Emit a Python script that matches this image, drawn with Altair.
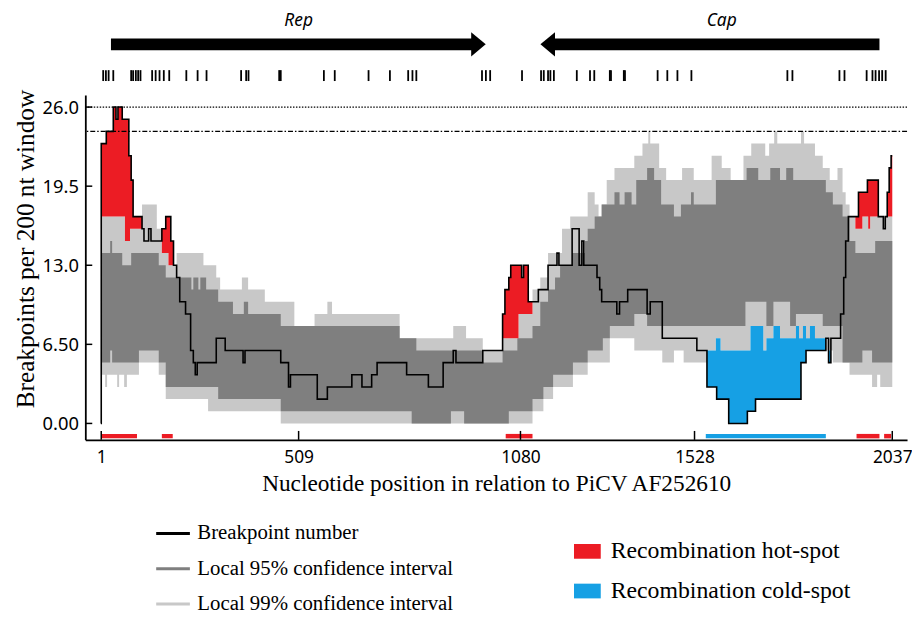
import altair as alt
import numpy as np
import pandas as pd

# ---------------- data ----------------
# breakpoint number (step function: value starts at position)
line_pos = [1, 14, 32, 39, 44, 55, 72, 78, 83, 106, 111, 123, 129, 157, 167, 180, 187, 195, 203, 218,
            231, 238, 243, 248, 297, 320, 366, 371, 463, 483, 488, 557, 583, 646, 672, 697, 711, 787, 843, 881,
            907, 914, 983, 1029, 1034, 1040, 1050, 1055, 1083, 1088, 1100, 1126, 1151, 1174, 1179, 1213, 1231, 1238, 1243, 1277,
            1284, 1289, 1328, 1335, 1356, 1406, 1414, 1445, 1534, 1560, 1585, 1616, 1664, 1685, 1802, 1815, 1866, 1873, 1879, 1904,
            1912, 1917, 1924, 1950, 1973, 2001, 2014, 2019, 2024, 2029, 2034, 2037]
line_val = [23, 24, 26, 25, 26, 25, 22, 20, 17, 16, 15, 16, 15, 16, 17, 15, 13, 12, 10, 9,
            6, 5, 4, 5, 7, 6, 5, 6, 5, 3, 4, 2, 3, 4, 3, 4, 5, 4, 3, 5,
            6, 5, 6, 6, 9, 11, 12, 13, 12, 13, 10, 11, 13, 14, 13, 16, 13, 15, 13, 12,
            11, 10, 9, 10, 11, 9, 10, 7, 6, 3, 2, 0, 1, 2, 5, 6, 7, 5, 7, 9,
            12, 15, 17, 19, 20, 17, 16, 17, 19, 21, 22, 22]

# local 99% CI upper
hi99_pos = [1, 62, 75, 106, 144, 157, 174, 195, 264, 297, 307, 363, 379, 422, 498, 550, 583, 595, 769, 907,
            940, 983, 1034, 1075, 1111, 1131, 1151, 1187, 1208, 1253, 1271, 1281, 1289, 1302, 1322, 1373, 1394, 1409, 1414, 1437,
            1455, 1496, 1526, 1572, 1598, 1621, 1654, 1674, 1710, 1720, 1733, 1741, 1802, 1810, 1838, 1858, 1876, 1896, 1909, 1917,
            1927, 1942, 1960, 1975, 1980]
hi99_val = [17, 15, 16, 18, 16, 14, 13, 14, 13, 12, 11, 12, 11, 10, 8, 9, 10, 9, 7, 8,
            7, 6, 7, 9, 11, 12, 14, 16, 17, 19, 18, 17, 18, 20, 21, 22, 23, 24, 23, 21,
            20, 21, 20, 22, 21, 20, 22, 23, 22, 23, 24, 23, 24, 23, 22, 21, 20, 21, 19, 18,
            17, 16, 17, 16, 17]

# local 95% CI upper
hi95_pos = [1, 24, 29, 55, 78, 149, 167, 233, 238, 251, 256, 271, 302, 340, 368, 379, 463, 769, 812, 983,
            1034, 1072, 1111, 1131, 1151, 1169, 1182, 1213, 1246, 1253, 1271, 1289, 1322, 1335, 1348, 1366, 1378, 1406, 1424, 1442,
            1475, 1493, 1519, 1526, 1583, 1662, 1692, 1723, 1748, 1764, 1782, 1866, 1884, 1909, 1927, 1942, 1993]
hi95_val = [14, 15, 14, 13, 14, 13, 12, 11, 12, 11, 12, 11, 10, 9, 10, 9, 8, 7, 6, 5,
            6, 7, 8, 10, 11, 12, 13, 14, 15, 16, 17, 18, 19, 18, 19, 18, 20, 21, 20, 18,
            17, 18, 19, 18, 20, 21, 20, 21, 20, 21, 20, 19, 18, 17, 15, 14, 15]

# local 95% CI lower
lo95_pos = [1, 24, 29, 98, 149, 167, 302, 463, 800, 901, 935, 1050, 1111, 1139, 1164, 1215, 1253, 1292, 1310, 1373,
            1406, 1560, 1659, 1713, 1731, 1774, 1789, 1858, 1909, 1960, 1985]
lo95_val = [5, 6, 5, 6, 5, 3, 2, 1, 0, 1, 0, 1, 2, 3, 4, 5, 6, 7, 8, 9,
            8, 8, 10, 8, 10, 8, 9, 8, 5, 6, 5]

# local 99% CI lower
lo99_pos = [1, 11, 16, 42, 47, 60, 67, 98, 149, 167, 276, 463, 1111, 1139, 1164, 1215, 1253, 1310, 1373, 1445,
            1475, 1500, 1560, 1583, 1595, 1672, 1705, 1713, 1731, 1748, 1789, 1797, 1807, 1815, 1825, 1838, 1866, 1884, 1927, 1985,
            1998, 2006]
lo99_val = [4, 3, 4, 3, 4, 3, 4, 5, 4, 2, 1, 0, 1, 2, 3, 4, 5, 7, 6, 5,
            6, 5, 6, 7, 6, 8, 6, 7, 8, 7, 8, 7, 8, 7, 8, 7, 6, 5, 4, 3,
            4, 3]

# hot / cold spot regions (bars along the axis)
hot_start = [1, 157, 1042, 1945, 2016]
hot_end = [93, 185, 1111, 2004, 2034]
cold_start = [1557]
cold_end = [1866]

# marks above the plot (breakpoint positions)
top_marks = [6, 13, 20, 32, 78, 83, 90, 96, 102, 132, 141, 151, 162, 176, 220, 249, 272, 361, 374, 380,
             459, 463, 574, 602, 689, 744, 791, 802, 812, 981, 991, 1002, 1084, 1133, 1140, 1151, 1157, 1166, 1225, 1259,
             1270, 1310, 1313, 1346, 1349, 1433, 1458, 1484, 1520, 1767, 1780, 1901, 1914, 1971, 1986, 1994, 2003, 2011, 2020]

genes = ["Rep", "Cap"]
gene_start = [26, 2004]
gene_end = [991, 1131]
gene_label_x = [509, 1598]

x_ticks = [1, 509, 1080, 1528, 2037]
y_ticks = [0, 6.5, 13, 19.5, 26]
thr_99 = [26]
thr_95 = [24]

line_names = ["Breakpoint number", "Local 95% confidence interval", "Local 99% confidence interval"]
spot_names = ["Recombination hot-spot", "Recombination cold-spot"]

# ---------------- tables ----------------
grid = np.array(sorted(set(line_pos + hi99_pos + hi95_pos + lo95_pos + lo99_pos)))


def step(pos, val):
    idx = np.searchsorted(np.array(pos), grid, side="right") - 1
    return np.array(val, dtype=float)[idx]


bands = pd.DataFrame({
    "pos": grid,
    "line": step(line_pos, line_val),
    "hi99": step(hi99_pos, hi99_val),
    "hi95": step(hi95_pos, hi95_val),
    "lo95": step(lo95_pos, lo95_val),
    "lo99": step(lo99_pos, lo99_val),
})
bands["red_top"] = np.maximum(bands["line"], bands["hi99"])
bands["blue_bot"] = np.minimum(bands["line"], bands["lo99"])
bands["hot"] = spot_names[0]
bands["cold"] = spot_names[1]

line_df = pd.DataFrame({"pos": [0] + line_pos, "bp": [0] + line_val, "series": line_names[0]})
spots_df = pd.DataFrame({
    "start": hot_start + cold_start,
    "end": hot_end + cold_end,
    "kind": [spot_names[0]] * len(hot_start) + [spot_names[1]] * len(cold_start),
})
genes_df = pd.DataFrame({"gene": genes, "start": gene_start, "end": gene_end, "lx": gene_label_x})

# ---------------- styling ----------------
W, H = 829, 348
SANS = "Noto Sans"
SERIF = "Liberation Serif"
RED, BLUE = "#ec1c24", "#16a0e4"
DARK, LIGHT = "#7f7f7f", "#c8c8c8"

xs = alt.Scale(domain=[-40, 2075], nice=False, zero=False)
ys = alt.Scale(domain=[-1.35, 27], nice=False, zero=False)

X_TITLE = "Nucleotide position in relation to PiCV AF252610"
Y_TITLE = "Breakpoints per 200 nt window"
x_axis = alt.Axis(values=x_ticks, format="d", ticks=False, tickSize=0, grid=False, domainColor="black",
                  domainWidth=1.8, labelFont=SANS, labelFontSize=17.5, labelColor="black", labelPadding=9,
                  labelFlush=False, title=X_TITLE, titleFont=SERIF, titleFontSize=23.5,
                  titleFontWeight="normal", titleColor="black", titlePadding=6)
y_axis = alt.Axis(values=y_ticks, labelExpr="datum.value == 0 ? '0.00' : format(datum.value, '.3r')",
                  ticks=False, tickSize=0, grid=False, domainColor="black",
                  domainWidth=1.8, labelFont=SANS, labelFontSize=18.5, labelColor="black", labelPadding=7,
                  title=Y_TITLE, titleFont=SERIF, titleFontSize=25.5, titleY=155,
                  titleFontWeight="normal", titleColor="black", titlePadding=4)


def X(field):
    return alt.X(field, scale=xs, axis=x_axis, title=X_TITLE)


def Y(field):
    return alt.Y(field, scale=ys, axis=y_axis, title=Y_TITLE)


stroke_scale = alt.Scale(domain=line_names, range=["#000000", DARK, LIGHT])
fill_scale = alt.Scale(domain=spot_names, range=[RED, BLUE])

line_legend = alt.Legend(orient="none", legendX=70, legendY=424, title=None, padding=0, offset=0,
                         symbolType="stroke", symbolSize=1156, symbolStrokeWidth=3, labelOffset=6,
                         labelFont=SERIF, labelFontSize=21, labelColor="black", labelLimit=0, rowPadding=6.5)
spot_legend = alt.Legend(orient="none", legendX=493, legendY=447, title=None, padding=0, offset=0,
                         symbolType="M -1 -0.55 L 1 -0.55 L 1 0.55 L -1 0.55 Z", symbolSize=729,
                         symbolStrokeWidth=0, labelOffset=10, labelFont=SERIF, labelFontSize=24,
                         labelColor="black", labelLimit=0, rowPadding=14)

b = alt.Chart(bands)

area99 = b.mark_area(interpolate="step-after", color=LIGHT).encode(
    x=X("pos:Q"), y=Y("lo99:Q"), y2="hi99:Q")
area95 = b.mark_area(interpolate="step-after", color=DARK).encode(
    x=X("pos:Q"), y=Y("lo95:Q"), y2="hi95:Q")
hot_area = b.mark_area(interpolate="step-after").encode(
    x=X("pos:Q"), y=Y("hi99:Q"), y2="red_top:Q",
    fill=alt.Fill("hot:N", scale=fill_scale, legend=spot_legend))
cold_area = b.mark_area(interpolate="step-after").encode(
    x=X("pos:Q"), y=Y("blue_bot:Q"), y2="lo99:Q",
    fill=alt.Fill("cold:N", scale=fill_scale, legend=spot_legend))
bp_line = alt.Chart(line_df).mark_line(interpolate="step-after", strokeWidth=1.6).encode(
    x=X("pos:Q"), y=Y("bp:Q"),
    stroke=alt.Stroke("series:N", scale=stroke_scale, legend=line_legend))
rule99 = alt.Chart(pd.DataFrame({"t": thr_99})).mark_rule(
    color="black", strokeWidth=1.3, strokeDash=[1.5, 1.5]).encode(y=Y("t:Q"))
rule95 = alt.Chart(pd.DataFrame({"t": thr_95})).mark_rule(
    color="black", strokeWidth=1.3, strokeDash=[5, 2, 1.5, 2]).encode(y=Y("t:Q"))

spot_bars = alt.Chart(spots_df).mark_rect().encode(
    x=X("start:Q"), x2="end:Q",
    y=alt.value(H - 6), y2=alt.value(H - 1.5),
    fill=alt.Fill("kind:N", scale=fill_scale, legend=spot_legend))
xtick_layer = alt.Chart(pd.DataFrame({"t": x_ticks})).mark_rule(color="black", strokeWidth=1.5).encode(
    x=X("t:Q"), y=alt.value(H - 9), y2=alt.value(H))
ytick_layer = alt.Chart(pd.DataFrame({"t": y_ticks})).mark_rule(color="black", strokeWidth=1.5).encode(
    y=Y("t:Q"), x=alt.value(0), x2=alt.value(7))

marks_layer = alt.Chart(pd.DataFrame({"p": top_marks})).mark_rule(color="black", strokeWidth=1.8).encode(
    x=X("p:Q"), y=alt.value(-25), y2=alt.value(-14))

g = alt.Chart(genes_df)
rep_body = g.transform_filter("datum.gene == 'Rep'").mark_rule(color="black", strokeWidth=12, x2Offset=-14).encode(
    x=X("start:Q"), x2="end:Q", y=alt.value(-51))
cap_body = g.transform_filter("datum.gene == 'Cap'").mark_rule(color="black", strokeWidth=12, x2Offset=14).encode(
    x=X("start:Q"), x2="end:Q", y=alt.value(-51))
rep_head = g.transform_filter("datum.gene == 'Rep'").mark_point(
    shape="M -0.6 -1 L 0.6 0 L -0.6 1 Z", size=600, filled=True, color="black", opacity=1, strokeWidth=0,
    xOffset=-7.5).encode(x=X("end:Q"), y=alt.value(-51))
cap_head = g.transform_filter("datum.gene == 'Cap'").mark_point(
    shape="M 0.6 -1 L -0.6 0 L 0.6 1 Z", size=600, filled=True, color="black", opacity=1, strokeWidth=0,
    xOffset=7.5).encode(x=X("end:Q"), y=alt.value(-51))
gene_text = g.mark_text(font=SANS, fontSize=17.5, fontStyle="italic", color="black").encode(
    x=X("lx:Q"), y=alt.value(-75), text="gene:N")

chart = alt.layer(
    area99, area95, hot_area, cold_area, rule99, rule95, bp_line, spot_bars, xtick_layer, ytick_layer,
    marks_layer, rep_body, cap_body, rep_head, cap_head, gene_text,
).properties(
    width=W, height=H,
    autosize=alt.AutoSizeParams(type="none"),
    padding={"left": 78, "top": 85, "right": 5, "bottom": 173},
    background="white",
).configure_view(stroke=None)

chart.save("out.html", embed_options={"renderer": "svg", "actions": False})
